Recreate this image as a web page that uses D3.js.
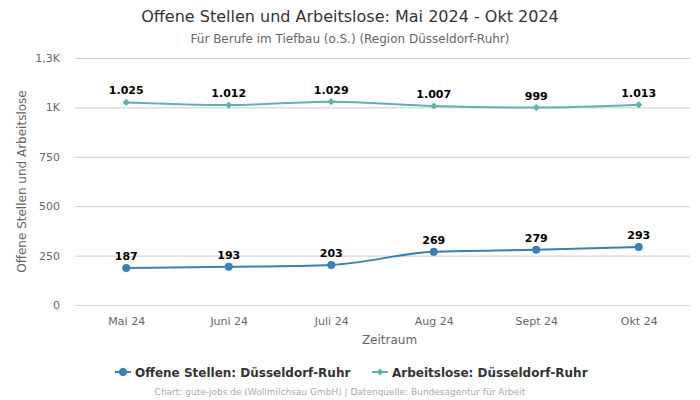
<!DOCTYPE html>
<html><head><meta charset="utf-8">
<script src="https://cdn.jsdelivr.net/npm/d3@7"></script>
<style>body{margin:0;background:#fff;font-family:"DejaVu Sans",sans-serif;}</style>
</head><body><svg id="c" width="700" height="400"></svg>
<script>
const categories = ["Mai 24","Juni 24","Juli 24","Aug 24","Sept 24","Okt 24"];
const offeneStellen = [187,193,203,269,279,293];
const arbeitslose = [1025,1012,1029,1007,999,1013];
const yTicks = [0,250,500,750,1000,1250];
const yTickLabels = ["0","250","500","750","1K","1,3K"];
const seriesNames = ["Offene Stellen: Düsseldorf-Ruhr","Arbeitslose: Düsseldorf-Ruhr"];
const colors = ["#3a7fb9","#5bb5ae"];

const svg = d3.select("#c");
const L=75,R=690,T=58,B=305;
const x = d3.scalePoint().domain(categories).range([L,R]).padding(0.5);
const y = d3.scaleLinear().domain([0,1250]).range([B,T]);
const fmt = v => d3.format(",")(v).replace(/,/g,".");

svg.append("text").attr("x",350).attr("y",22).attr("text-anchor","middle").attr("font-size",16).attr("fill","#333").text("Offene Stellen und Arbeitslose: Mai 2024 - Okt 2024");
svg.append("text").attr("x",350).attr("y",43).attr("text-anchor","middle").attr("font-size",12).attr("fill","#666").text("Für Berufe im Tiefbau (o.S.) (Region Düsseldorf-Ruhr)");

const yAxis = svg.append("g").attr("transform",`translate(${L},0)`)
  .call(d3.axisLeft(y).tickValues(yTicks).tickSize(-(R-L)).tickFormat((d,i)=>yTickLabels[i]));
yAxis.select(".domain").remove();
yAxis.selectAll(".tick line").attr("stroke","#ccc");
yAxis.selectAll(".tick text").attr("fill","#666").attr("font-size",11).attr("x",-15).attr("font-family","DejaVu Sans");

const xAxis = svg.append("g").attr("transform",`translate(0,${B})`).call(d3.axisBottom(x).tickSize(0));
xAxis.select(".domain").attr("stroke","#ccd6eb");
xAxis.selectAll(".tick text").attr("fill","#666").attr("font-size",11).attr("dy","1.5em").attr("font-family","DejaVu Sans");

svg.append("text").attr("x",(L+R)/2+7).attr("y",344).attr("text-anchor","middle").attr("font-size",12).attr("fill","#666").text("Zeitraum");
svg.append("text").attr("transform",`translate(26,${(T+B)/2}) rotate(-90)`).attr("text-anchor","middle").attr("font-size",12).attr("fill","#666").text("Offene Stellen und Arbeitslose");

const diamond = d3.symbol(d3.symbolSquare,26)();
const line = d3.line().x((d,i)=>x(categories[i])).y(d=>y(d)).curve(d3.curveMonotoneX);
[offeneStellen, arbeitslose].forEach((s,k)=>{
  svg.append("path").datum(s).attr("d",line).attr("fill","none").attr("stroke",colors[k]).attr("stroke-width",2);
  const g = svg.append("g");
  s.forEach((v,i)=>{
    const cx=x(categories[i]), cy=y(v);
    if(k===0) g.append("circle").attr("cx",cx).attr("cy",cy).attr("r",4).attr("fill",colors[k]);
    else g.append("path").attr("d",diamond).attr("transform",`translate(${cx},${cy}) rotate(45)`).attr("fill",colors[k]);
    g.append("text").attr("x",cx).attr("y",cy-8).attr("text-anchor","middle").attr("font-size",11).attr("font-weight","bold").attr("fill","#000").text(fmt(v));
  });
});

// legend
const lg = svg.append("g");
const items = [{x:115},{x:372}];
items.forEach((it,k)=>{
  lg.append("line").attr("x1",it.x).attr("x2",it.x+16).attr("y1",372).attr("y2",372).attr("stroke",colors[k]).attr("stroke-width",2);
  if(k===0) lg.append("circle").attr("cx",it.x+8).attr("cy",372).attr("r",4).attr("fill",colors[k]);
  else lg.append("path").attr("d",diamond).attr("transform",`translate(${it.x+8},372) rotate(45)`).attr("fill",colors[k]);
  lg.append("text").attr("x",it.x+20).attr("y",377).attr("font-size",12).attr("font-weight","bold").attr("fill","#333").text(seriesNames[k]);
});
svg.append("text").attr("x",340).attr("y",395).attr("text-anchor","middle").attr("font-size",9).attr("fill","#aaa").text("Chart: gute-jobs.de (Wollmilchsau GmbH) | Datenquelle: Bundesagentur für Arbeit");
</script></body></html>
